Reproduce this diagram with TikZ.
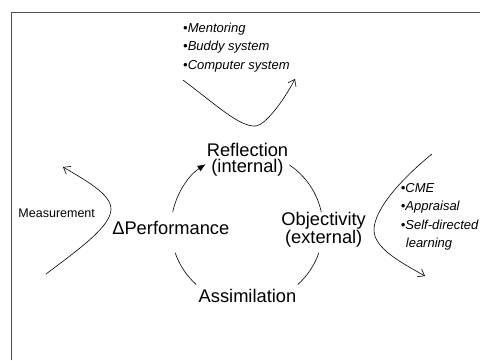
\documentclass[tikz,border=0pt]{standalone}
\usepackage{fontspec}
\setmainfont{Liberation Sans}
\usetikzlibrary{arrows.meta}

\begin{document}
\begin{tikzpicture}
	[
		x=1pt, y=1pt,
		stage/.style = {font=\fontsize{18.3}{16.6}\selectfont, align=center, inner sep=0pt},
		tools/.style = {font=\fontsize{13}{18.3}\selectfont\itshape, align=left, inner sep=0pt},
		loop/.style = {line width=0.6pt},
		nudge/.style = {-{Straight Barb[length=6pt, width=9pt]}, line width=0.6pt}
	]
	
	\useasboundingbox (0,0) rectangle (480,360);
	
	% frame
	\draw [black!70, line width=1pt] (11,0) -- (11,348) -- (480,348);
	
	\def\r{76}
	\coordinate (hub) at (247,132);
	
	\node [stage, anchor=base] (refl) at (247.5,187.3) {Reflection\\(internal)};
	\node [stage, anchor=base] (obj) at (323.7,116.7) {Objectivity\\(external)};
	\node [stage, anchor=base] (assim) at (247.5,57.7) {Assimilation};
	\node [stage, anchor=base] (perf) at (170.8,125.7) {ΔPerformance};
	
	\node [font=\fontsize{12.5}{14}\selectfont, inner sep=0pt, anchor=base] (meas) at (56.7,142.7) {Measurement};
	
	\node [tools, anchor=base west] (support) at (183,291) {•Mentoring\\•Buddy system\\•Computer system};
	\node [tools, anchor=base west] (develop) at (400.7,112.7) {•CME\\•Appraisal\\•Self-directed\\\hspace{5pt}learning};
	
	% the cycle
	\draw [loop, -{Latex[length=8pt, width=6.5pt]}] (hub) ++(168:\r) arc [start angle=168, end angle=123, radius=\r];
	\draw [loop] (hub) ++(56:\r) arc [start angle=56, end angle=12, radius=\r];
	\draw [loop] (hub) ++(-19:\r) arc [start angle=-19, end angle=-48, radius=\r];
	\draw [loop] (hub) ++(199:\r) arc [start angle=199, end angle=228, radius=\r];
	
	% side arrows
	\draw [nudge] (183,280) .. controls (220,252) and (240,233) .. (256,234) .. controls (265,235) and (283,258) .. (295,281);
	\draw [nudge] (46,86) .. controls (85,115) and (111,135) .. (111,151) .. controls (111,166) and (85,180) .. (63,193);
	\draw [nudge] (432,206) .. controls (400,180) and (374,150) .. (374,130) .. controls (374,112) and (400,98) .. (425,84);
	
\end{tikzpicture}
\end{document}
